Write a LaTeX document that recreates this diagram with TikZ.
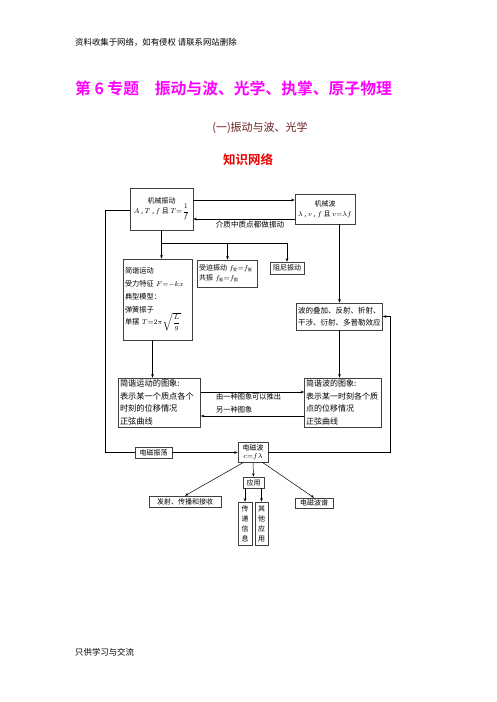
\documentclass[tikz,border=0pt]{standalone}
\usepackage{fontspec}
\setmainfont{Noto Sans CJK SC}[BoldFont={Noto Sans CJK SC Bold}]
\usetikzlibrary{arrows.meta}
\newcommand\cjksub[1]{_{\mbox{\fontsize{4}{4}\selectfont #1}}}
\definecolor{titlemag}{RGB}{255,0,255}
\definecolor{subbrown}{RGB}{110,30,30}
\definecolor{knred}{RGB}{235,0,0}
\begin{document}
\begin{tikzpicture}[x=1pt,y=-1pt,
  box/.style={draw=black!75, line width=0.6pt, inner sep=1.5pt, font=\fontsize{7}{12}\selectfont},
  lbox/.style={box, align=left, anchor=center},
  arr/.style={-{Stealth[length=3.5pt,width=2.6pt]}, line width=0.5pt},
  ln/.style={line width=0.5pt},
  lbl/.style={font=\fontsize{7.6}{12.5}\selectfont, inner sep=0pt},
  slbl/.style={font=\fontsize{7.2}{12.5}\selectfont, inner sep=0pt}]
\useasboundingbox (0,0) rectangle (496,702);
% page texts
\node[font=\fontsize{8.4}{10}\selectfont, anchor=west, inner sep=0pt] (hdr) at (75,42) {资料收集于网络，如有侵权\ 请联系网站删除};
\node[font=\fontsize{15.8}{18}\selectfont\bfseries, text=titlemag, anchor=west, inner sep=0pt] (ttl) at (75,88) {第 6 专题\quad 振动与波、光学、执掌、原子物理};
\node[font=\fontsize{11}{13}\selectfont, text=subbrown, inner sep=0pt] (sub) at (260,128) {(一)振动与波、光学};
\node[font=\fontsize{12.5}{14}\selectfont\bfseries, text=knred, inner sep=0pt] (kn) at (248,160) {知识网络};
\node[font=\fontsize{8.4}{10}\selectfont, anchor=west, inner sep=0pt] (ftr) at (75,652) {只供学习与交流};
% boxes
\node[box, align=center, minimum width=63pt, minimum height=42pt] (mv) at (161.5,209)
  {机械振动\\[-2pt] $A$ , $T$ , $f$ 且 $T{=}\displaystyle\frac{1}{f}$};
\node[box, align=center, minimum width=60pt, minimum height=30pt] (mw) at (325,209)
  {机械波\\[-2pt] $\lambda$ , $v$ , $f$ 且 $v{=}\lambda f$};
\node[lbox, text width=66pt, minimum height=81pt, font=\fontsize{7.2}{13}\selectfont] (jy) at (158,299.5)
  {简谐运动\\受力特征 $F{=}{-}kx$\\典型模型：\\弹簧振子\\[-1pt]单摆 $T{=}2\pi\sqrt{\displaystyle\frac{L}{g}}$};
\node[lbox, text width=57pt, minimum height=27pt] (sp) at (227.5,273.5)
  {受迫振动 $f\cjksub{受}{=}f\cjksub{驱}$\\[-2pt]共振 $f\cjksub{驱}{=}f\cjksub{固}$};
\node[box, minimum width=34pt, minimum height=12pt] (zn) at (287,268) {阻尼振动};
\node[lbox, text width=83pt, minimum height=27pt, font=\fontsize{7.5}{12}\selectfont] (bd) at (339.5,316.5)
  {波的叠加、反射、折射、\\干涉、衍射、多普勒效应};
\node[lbox, text width=79pt, minimum height=49pt, font=\fontsize{8.2}{12.5}\selectfont] (jt) at (159.5,402.5)
  {简谐运动的图象:\\表示某一个质点各个\\时刻的位移情况\\正弦曲线};
\node[lbox, text width=74pt, minimum height=49pt, font=\fontsize{8}{12.5}\selectfont] (bt) at (343,402.5)
  {简谐波的图象:\\表示某一时刻各个质\\点的位移情况\\正弦曲线};
\node[box, minimum width=37pt, minimum height=11pt, inner sep=0.5pt] (dz) at (153.5,452.5) {电磁振荡};
\node[box, align=center, minimum width=30pt, minimum height=20pt, inner sep=0.5pt, font=\fontsize{7}{8}\selectfont] (dw) at (253,452)
  {电磁波\\$c{=}f\lambda$};
\node[box, minimum width=21pt, minimum height=11pt, inner sep=0.5pt] (yy) at (253.5,482.5) {应用};
\node[box, minimum width=72pt, minimum height=11pt, inner sep=0.5pt] (fs) at (185,501.5) {发射、传播和接收};
\node[box, minimum width=38pt, minimum height=10pt, inner sep=0.5pt] (dp) at (314,503) {电磁波谱};
\node[box, align=center, minimum width=14pt, minimum height=43pt, inner sep=0.5pt, font=\fontsize{7}{10}\selectfont] (cd) at (245,523.5) {传\\递\\信\\息};
\node[box, align=center, minimum width=13pt, minimum height=43pt, inner sep=0.5pt, font=\fontsize{7}{10}\selectfont] (qt) at (261.5,523.5) {其\\他\\应\\用};
% labels
\node[lbl] (lab1) at (250,225) {介质中质点都做振动};
\node[slbl, anchor=west] (lab2) at (216,397) {由一种图象可以推出};
\node[slbl, anchor=west] (lab3) at (216,410) {另一种图象};
% connectors
\draw[arr] ([yshift=9pt]mv.east) -- ([yshift=9pt]mw.west);
\draw[arr] ([yshift=-10pt]mw.west) -- ([yshift=-10pt]mv.east);
\coordinate (br) at (161.5,243);
\draw[arr] (mv.south) -- (mv.south |- jy.north);
\draw[ln] (br) -- (zn.north |- br);
\draw[arr] (sp.north |- br) -- (sp.north);
\draw[arr] (zn.north |- br) -- (zn.north);
\draw[arr] (bd.north |- mw.south) -- (bd.north);
\draw[arr] (bd.south) -- (bd.south |- bt.north);
\draw[arr] ([xshift=-5.5pt]jy.south) -- ([xshift=-5.5pt]jy.south |- jt.north);
\draw[arr] ([yshift=10.5pt]jt.east) -- ([yshift=10.5pt]jt.east -| bt.west);
\draw[arr] ([yshift=-13.5pt]bt.west) -- ([yshift=-13.5pt]bt.west -| jt.east);
\coordinate (L) at (105,452.5);
\draw[ln] ([yshift=-1pt]mv.west) -| (L) -- (dz.west);
\draw[arr] (dz.east) -- (dz.east -| dw.west);
\coordinate (R) at (390,452);
\draw[arr] (dw.east) -- (R) |- (bd.east);
\draw[arr] (dw.south) -- (yy.north);
\draw[arr] ([xshift=6pt]dw.south west) -- (fs.north);
\draw[arr] ([xshift=-6pt]dw.south east) -- (dp.north);
\draw[arr] (cd.north |- yy.south) -- (cd.north);
\draw[arr] (qt.north |- yy.south) -- (qt.north);
\end{tikzpicture}
\end{document}
